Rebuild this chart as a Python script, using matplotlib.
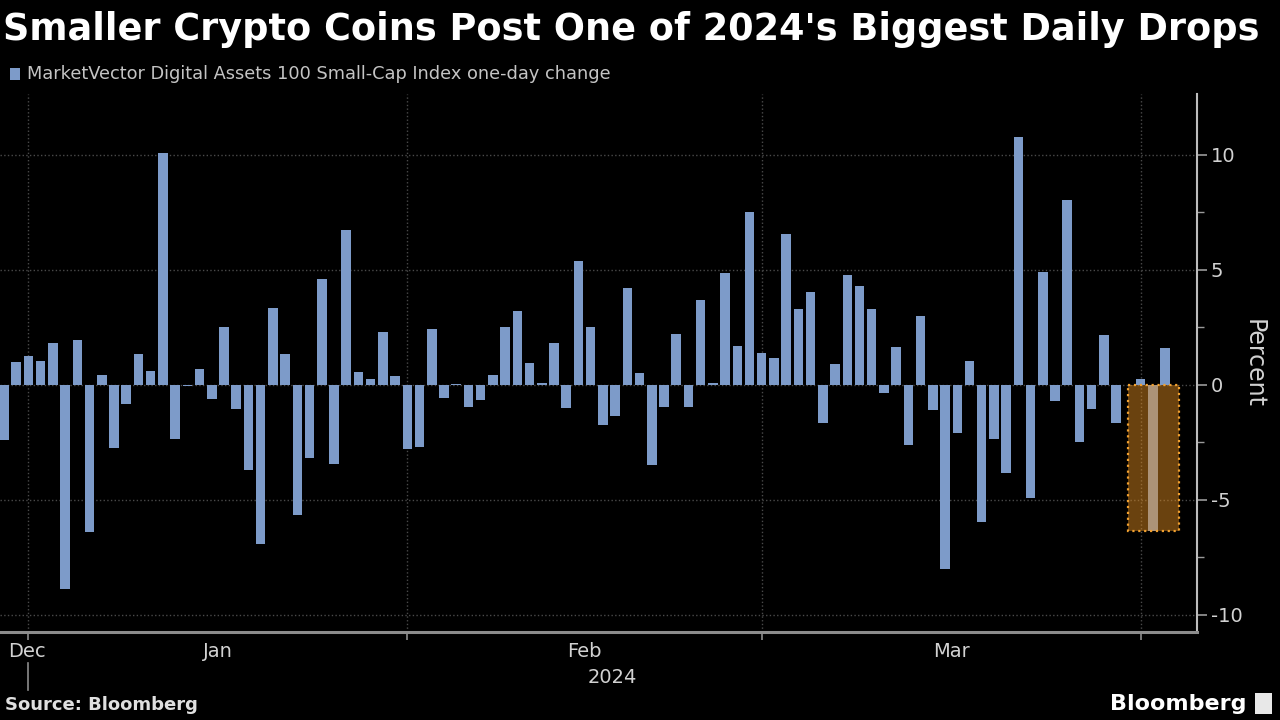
# Smaller crypto coins daily change chart (Bloomberg style)

import matplotlib.pyplot as plt
import matplotlib.dates as mdates
import matplotlib.transforms as mtransforms
from matplotlib.patches import Rectangle
import pandas as pd

plt.rcParams['axes.unicode_minus'] = False

# Data: daily one-day change, percent (Dec 30 2023 - Apr 3 2024)
start_date = '2023-12-30'
change = [-2.4, 1.0, 1.25, 1.05, 1.8, -8.9, 1.95, -6.4, 0.45, -2.75,
          -0.85, 1.35, 0.6, 10.1, -2.35, -0.07, 0.7, -0.6, 2.5, -1.05,
          -3.7, -6.9, 3.35, 1.35, -5.65, -3.2, 4.6, -3.45, 6.75, 0.55,
          0.25, 2.3, 0.4, -2.8, -2.7, 2.45, -0.55, 0.03, -0.95, -0.65,
          0.45, 2.5, 3.2, 0.95, 0.07, 1.8, -1.0, 5.4, 2.5, -1.75,
          -1.35, 4.2, 0.5, -3.5, -0.95, 2.2, -0.95, 3.7, 0.1, 4.85,
          1.7, 7.5, 1.4, 1.15, 6.55, 3.3, 4.05, -1.65, 0.9, 4.8,
          4.3, 3.3, -0.35, 1.65, -2.6, 3.0, -1.1, -8.0, -2.1, 1.05,
          -5.95, -2.35, -3.85, 10.8, -4.9, 4.9, -0.7, 8.05, -2.5, -1.05,
          2.15, -1.65, 0.0, 0.25, -6.35, 1.6]
highlight_day = '2024-04-02'
month_names = ['Dec', 'Jan', 'Feb', 'Mar']
year_label = '2024'

title = "Smaller Crypto Coins Post One of 2024's Biggest Daily Drops"
legend_text = 'MarketVector Digital Assets 100 Small-Cap Index one-day change'

bar_color = '#7d9bc9'
grid_color = '#4a4a4a'
text_grey = '#d2d2d2'

dates = pd.date_range(start_date, periods=len(change), freq='D')
x = mdates.date2num(dates)

fig = plt.figure(figsize=(12.8, 7.2), dpi=100, facecolor='black')
ax = fig.add_axes([0.0, 0.1222, 0.935, 0.7472])
ax.set_facecolor('black')

ax.bar(x, change, width=0.78, color=bar_color, zorder=2)

# highlight box over the big drop
hi = list(dates).index(pd.Timestamp(highlight_day))
ax.add_patch(Rectangle((x[hi] - 2.0, 0), 4.15, change[hi], facecolor='#e08c20',
                       alpha=0.48, edgecolor='none', zorder=3))
ax.add_patch(Rectangle((x[hi] - 2.0, 0), 4.15, change[hi], facecolor='none',
                       edgecolor='#f0a030', ls=':', lw=1.6, zorder=4))

ax.set_xlim(x[0] - 0.33, x[0] + 97.6)
ax.set_ylim(-10.75, 12.65)

# y axis on the right
ax.yaxis.tick_right()
ax.yaxis.set_label_position('right')
ax.set_yticks([-10, -5, 0, 5, 10])
ax.set_yticks([-7.5, -2.5, 2.5, 7.5], minor=True)
ax.tick_params(axis='y', which='both', colors='#9a9a9a', labelcolor=text_grey,
               labelsize=14, pad=3)
ax.tick_params(axis='y', which='major', length=7, width=1.2)
ax.tick_params(axis='y', which='minor', length=5, width=1.0)
ax.set_ylabel('Percent', rotation=270, color=text_grey, fontsize=17, labelpad=17)

# x axis: month boundaries as ticks + grid, month names centred in months
ax.xaxis.set_major_locator(mdates.MonthLocator())
ax.xaxis.set_major_formatter(plt.NullFormatter())
ax.tick_params(axis='x', which='major', colors='#8c8c8c', length=6, width=1.2)
ax.grid(True, axis='both', which='major', color=grid_color, ls=':', lw=1.0, zorder=0)

for side in ['top', 'left']:
    ax.spines[side].set_visible(False)
ax.spines['bottom'].set_color('#8c8c8c')
ax.spines['bottom'].set_linewidth(2.2)
ax.spines['right'].set_color('#bdbdbd')
ax.spines['right'].set_linewidth(1.5)

trans = mtransforms.blended_transform_factory(ax.transData, ax.transAxes)
month_starts = mdates.date2num(pd.to_datetime(['2024-01-01', '2024-02-01',
                                               '2024-03-01', '2024-04-01']))
label_pos = [month_starts[0] - 0.1]
for i in range(3):
    label_pos.append((month_starts[i] + month_starts[i + 1]) / 2)
for pos, name in zip(label_pos, month_names):
    ax.text(pos, -0.036, name, transform=trans, ha='center', va='center',
            color=text_grey, fontsize=14)
xmax = ax.get_xlim()[1]
ax.text((month_starts[0] + xmax) / 2, -0.084, year_label, transform=trans,
        ha='center', va='center', color=text_grey, fontsize=14)
ax.plot([month_starts[0], month_starts[0]], [-0.058, -0.108], transform=trans,
        color='#8c8c8c', lw=1.2, clip_on=False)

# title, legend, footer
fig.text(0.002, 0.959, title, color='white', fontsize=26.4, fontweight='bold',
         va='center', ha='left')
fig.patches.append(Rectangle((10 / 1280, 1 - 80 / 720), 10 / 1280, 12 / 720,
                             transform=fig.transFigure, facecolor=bar_color,
                             edgecolor='none'))
fig.text(27 / 1280, 1 - 74 / 720, legend_text, color='#c4c4c4', fontsize=12.8,
         va='center', ha='left')
fig.text(5 / 1280, 1 - 705 / 720, 'Source: Bloomberg', color='#e0e0e0',
         fontsize=13, fontweight='bold', va='center', ha='left')
fig.text(1247 / 1280, 1 - 704 / 720, 'Bloomberg', color='white',
         fontsize=16, fontweight='bold', va='center', ha='right')
fig.patches.append(Rectangle((1255 / 1280, 1 - 714 / 720), 17 / 1280, 21 / 720,
                             transform=fig.transFigure, facecolor='#e8e8e8',
                             edgecolor='none'))

fig.savefig('out.png', dpi=100, facecolor='black')
